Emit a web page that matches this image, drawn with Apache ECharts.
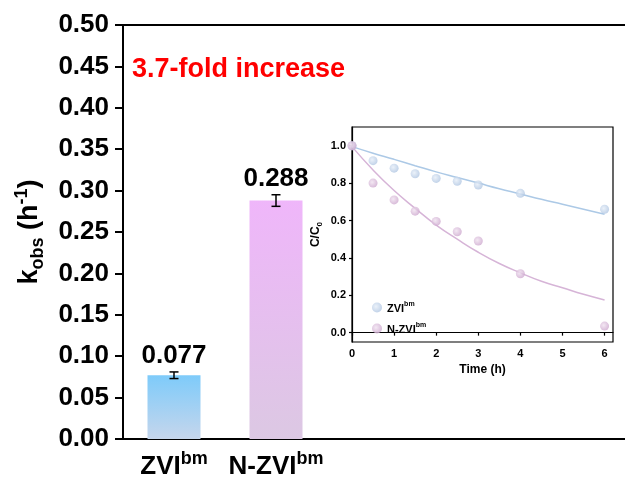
<!DOCTYPE html>
<html><head><meta charset="utf-8">
<script src="https://cdn.jsdelivr.net/npm/echarts@6/dist/echarts.min.js"></script>
<style>html,body{margin:0;padding:0;background:#fff}#c{width:625px;height:477px}</style>
</head><body><div id="c"></div>
<script>
// ---- main bar chart data ----
const categories = ['ZVI', 'N-ZVI'];
const supText = 'bm';
const kobs = [0.077, 0.288];
const kobsErr = [0.004, 0.007];
const foldText = '3.7-fold increase';
// ---- inset data ----
const timeH = [0, 0.5, 1, 1.5, 2, 2.5, 3, 4, 6];
const zviC = [1.0, 0.92, 0.88, 0.85, 0.825, 0.81, 0.79, 0.745, 0.66];
const nzviC = [1.0, 0.80, 0.71, 0.65, 0.595, 0.54, 0.49, 0.315, 0.035];
const fitT = [0, 0.5, 1, 1.5, 2, 2.5, 3, 3.5, 4, 4.5, 5, 5.5, 6];
const zviFit = [0.995, 0.96, 0.927, 0.893, 0.86, 0.83, 0.80, 0.77, 0.742, 0.713, 0.687, 0.66, 0.633];
const nzviFit = [0.995, 0.87, 0.76, 0.665, 0.575, 0.50, 0.43, 0.37, 0.32, 0.275, 0.24, 0.205, 0.175];
const insetYTicks = [0, 0.2, 0.4, 0.6, 0.8, 1.0];
const insetXTicks = [0, 1, 2, 3, 4, 5, 6];

const FF = '"Liberation Sans", Arial, sans-serif';
const pair = (xs, ys) => xs.map((x, i) => [x, ys[i]]);
const lg = (c1, c2) => new echarts.graphic.LinearGradient(0, 0, 0, 1, [{offset: 0, color: c1}, {offset: 1, color: c2}]);
const rg = (c1, c2) => new echarts.graphic.RadialGradient(0.4, 0.4, 0.6, [{offset: 0, color: c1}, {offset: 1, color: c2}]);
const barColors = [lg('#7ecbfa', '#c6d6ec'), lg('#efb6fa', '#dcc8e3')];

const chart = echarts.init(document.getElementById('c'), null, {renderer: 'canvas'});
const option = {
  animation: false,
  backgroundColor: '#fff',
  title: {
    text: foldText, left: 132, top: 56, padding: 0,
    textStyle: {color: '#ff0000', fontFamily: FF, fontWeight: 'bold', fontSize: 27}
  },
  grid: [
    {left: 123, top: 25, width: 204, bottom: 38, outerBoundsMode: 'none', containLabel: false},
    {left: 123, top: 25, right: -30, bottom: 38, outerBoundsMode: 'none', containLabel: false},
    {left: 352, top: 127, right: 12, bottom: 135, show: true, borderColor: '#000', borderWidth: 1.2, outerBoundsMode: 'none', containLabel: false}
  ],
  legend: {
    data: ['ZVI', 'N-ZVI'], orient: 'vertical', left: 372, top: 301, padding: 0,
    itemWidth: 10, itemHeight: 10, itemGap: 8, icon: 'circle',
    formatter: n => `{a|${n}}{s|${supText}}`,
    textStyle: {fontFamily: FF, rich: {
      a: {fontSize: 11, fontWeight: 'bold', color: '#000', fontFamily: FF, lineHeight: 13, verticalAlign: 'bottom'},
      s: {fontSize: 7, fontWeight: 'bold', color: '#000', fontFamily: FF, lineHeight: 7, verticalAlign: 'top'}
    }}
  },
  xAxis: [
    {type: 'category', gridIndex: 0, data: categories,
     axisLine: {show: false}, axisTick: {show: false},
     axisLabel: {interval: 0, margin: 11, hideOverlap: false, formatter: v => `{a|${v}}{s|${supText}}`,
       rich: {
         a: {fontSize: 26, fontWeight: 'bold', color: '#000', fontFamily: FF, lineHeight: 30, verticalAlign: 'bottom'},
         s: {fontSize: 18, fontWeight: 'bold', color: '#000', fontFamily: FF, lineHeight: 18, verticalAlign: 'top'}
       }}},
    {type: 'value', gridIndex: 1, position: 'bottom', min: 0, max: 1,
     axisLine: {show: true, lineStyle: {color: '#000', width: 2}}, axisTick: {show: false}, axisLabel: {show: false}, splitLine: {show: false}},
    {type: 'value', gridIndex: 1, position: 'top', min: 0, max: 1,
     axisLine: {show: true, lineStyle: {color: '#000', width: 2}}, axisTick: {show: false}, axisLabel: {show: false}, splitLine: {show: false}},
    {type: 'value', gridIndex: 2, min: 0, max: 6.2,
     name: 'Time (h)', nameLocation: 'middle', nameGap: 22,
     nameTextStyle: {fontFamily: FF, fontWeight: 'bold', fontSize: 12, color: '#000'},
     axisLine: {show: true, lineStyle: {color: '#000', width: 1.2}},
     axisTick: {show: true, inside: false, length: 3, customValues: insetXTicks, lineStyle: {color: '#000', width: 1.2}},
     axisLabel: {customValues: insetXTicks, margin: 6, fontFamily: FF, fontWeight: 'bold', fontSize: 11, color: '#000'},
     splitLine: {show: false}}
  ],
  yAxis: [
    {type: 'value', gridIndex: 0, min: 0, max: 0.5, interval: 0.05,
     name: '{k|k}{sub|obs}{k| (h}{sup|-1}{k|)}', nameLocation: 'middle', nameGap: 76, nameRotate: 90,
     nameTextStyle: {rich: {
       k: {fontSize: 27, fontWeight: 'bold', color: '#000', fontFamily: FF, lineHeight: 34, verticalAlign: 'middle'},
       sub: {fontSize: 18, fontWeight: 'bold', color: '#000', fontFamily: FF, lineHeight: 18, verticalAlign: 'bottom'},
       sup: {fontSize: 18, fontWeight: 'bold', color: '#000', fontFamily: FF, lineHeight: 18, verticalAlign: 'top'}
     }},
     axisLine: {show: true, lineStyle: {color: '#000', width: 2}},
     axisTick: {show: true, length: 8, lineStyle: {color: '#000', width: 2}},
     axisLabel: {margin: 14, fontFamily: FF, fontWeight: 'bold', fontSize: 26, color: '#000', formatter: v => v.toFixed(2)},
     splitLine: {show: false}},
    {type: 'value', gridIndex: 1, show: false, min: 0, max: 1},
    {type: 'value', gridIndex: 2, min: -0.05, max: 1.1,
     name: '{a|C/C}{s|0}', nameLocation: 'middle', nameGap: 28, nameRotate: 90,
     nameTextStyle: {rich: {
       a: {fontSize: 12, fontWeight: 'bold', color: '#000', fontFamily: FF, lineHeight: 16, verticalAlign: 'middle'},
       s: {fontSize: 8, fontWeight: 'bold', color: '#000', fontFamily: FF, lineHeight: 8, verticalAlign: 'bottom'}
     }},
     axisLine: {show: true, lineStyle: {color: '#000', width: 1.2}},
     axisTick: {show: true, length: 3, customValues: insetYTicks, lineStyle: {color: '#000', width: 1.2}},
     axisLabel: {customValues: insetYTicks, margin: 6, fontFamily: FF, fontWeight: 'bold', fontSize: 11, color: '#000', formatter: v => v.toFixed(1)},
     splitLine: {show: false}}
  ],
  series: [
    {type: 'bar', xAxisIndex: 0, yAxisIndex: 0, barWidth: 53,
     data: kobs.map((v, i) => ({value: v, itemStyle: {color: barColors[i]}}))},
    {type: 'custom', xAxisIndex: 0, yAxisIndex: 0, z: 5,
     data: kobs.map((v, i) => [i, v - kobsErr[i], v + kobsErr[i], v]),
     renderItem: (params, api) => {
       const x = api.coord([api.value(0), 0])[0];
       const lo = api.coord([api.value(0), api.value(1)])[1];
       const hi = api.coord([api.value(0), api.value(2)])[1];
       const st = {stroke: '#000', lineWidth: 1.5};
       const cw = 4.5;
       return {type: 'group', children: [
         {type: 'line', shape: {x1: x, y1: lo, x2: x, y2: hi}, style: st},
         {type: 'line', shape: {x1: x - cw, y1: lo, x2: x + cw, y2: lo}, style: st},
         {type: 'line', shape: {x1: x - cw, y1: hi, x2: x + cw, y2: hi}, style: st},
         {type: 'text', x: x, y: hi - 3, style: {text: api.value(3).toFixed(3), fill: '#000',
           font: 'bold 26px ' + FF, align: 'center', verticalAlign: 'bottom'}}
       ]};
     }},
    {type: 'line', name: 'ZVI-fit', xAxisIndex: 3, yAxisIndex: 2, data: pair(fitT, zviFit), smooth: true,
     showSymbol: false, lineStyle: {color: '#acc9e6', width: 1.5}, z: 2},
    {type: 'line', name: 'N-ZVI-fit', xAxisIndex: 3, yAxisIndex: 2, data: pair(fitT, nzviFit), smooth: true,
     showSymbol: false, lineStyle: {color: '#d6b4d7', width: 1.5}, z: 2},
    {type: 'scatter', name: 'ZVI', xAxisIndex: 3, yAxisIndex: 2, data: pair(timeH, zviC), symbolSize: 9, z: 3,
     itemStyle: {color: rg('#e6eef8', '#b3c8e3')}},
    {type: 'scatter', name: 'N-ZVI', xAxisIndex: 3, yAxisIndex: 2, data: pair(timeH, nzviC), symbolSize: 9, z: 3,
     itemStyle: {color: rg('#f0e2f0', '#cfabd0')}}
  ]
};
chart.setOption(option);
</script></body></html>
